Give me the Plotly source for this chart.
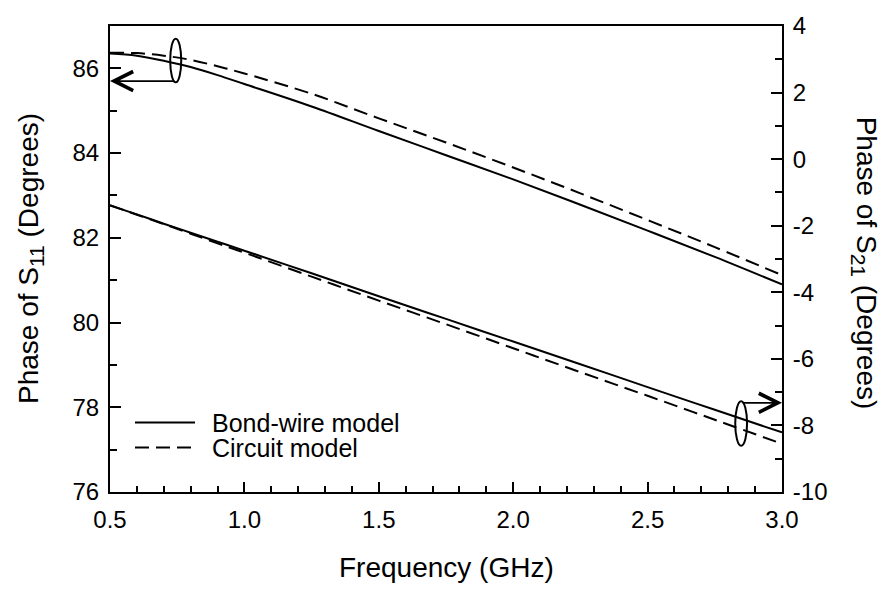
import plotly.graph_objects as go

# ---------------- data ----------------
freq = [0.5, 0.6, 0.7, 0.8, 0.9, 1.0, 1.25, 1.5, 1.75, 2.0, 2.25, 2.5, 2.75, 3.0]

s11_bondwire = [86.35, 86.30, 86.18, 86.03, 85.84, 85.63, 85.10, 84.52, 83.95, 83.38, 82.78, 82.17, 81.55, 80.90]
s11_circuit = [86.37, 86.36, 86.30, 86.20, 86.05, 85.88, 85.40, 84.82, 84.25, 83.66, 83.05, 82.42, 81.78, 81.12]

s21_bondwire = [-1.39, -1.66, -1.94, -2.21, -2.48, -2.75, -3.43, -4.12, -4.80, -5.48, -6.16, -6.85, -7.53, -8.21]
s21_circuit = [-1.38, -1.67, -1.95, -2.24, -2.53, -2.81, -3.53, -4.25, -4.96, -5.68, -6.40, -7.11, -7.83, -8.55]

x_ticks = [0.5, 1.0, 1.5, 2.0, 2.5, 3.0]
x_ticktext = ["0.5", "1.0", "1.5", "2.0", "2.5", "3.0"]
y1_ticks = [76, 78, 80, 82, 84, 86]
y1_ticktext = ["76", "78", "80", "82", "84", "86"]
y2_ticks = [-10, -8, -6, -4, -2, 0, 2, 4]
y2_ticktext = ["-10", "-8", "-6", "-4", "-2", "0", "2", "4"]

series_names = ["Bond-wire model", "Circuit model"]
series_dash = ["solid", "14px,7px"]

x_title = "Frequency (GHz)"
y1_title = "Phase of S<sub><span style=\"font-size:21px\">11</span></sub> (Degrees)"
y2_title = "Phase of S<sub><span style=\"font-size:21px\">21</span></sub> (Degrees)"

FONT = "Liberation Sans, Arial, sans-serif"

fig = go.Figure()

for vals, name, dash in [(s11_bondwire, series_names[0], series_dash[0]),
                         (s11_circuit, series_names[1], series_dash[1])]:
    fig.add_trace(go.Scatter(x=freq, y=vals, mode="lines", name=name,
                             line=dict(color="black", width=2, dash=dash, shape="spline"),
                             yaxis="y", showlegend=False))

for vals, name, dash in [(s21_bondwire, series_names[0], series_dash[0]),
                         (s21_circuit, series_names[1], series_dash[1])]:
    fig.add_trace(go.Scatter(x=freq, y=vals, mode="lines", name=name,
                             line=dict(color="black", width=2, dash=dash, shape="spline"),
                             yaxis="y2", showlegend=False))

tickfont = dict(family=FONT, size=24, color="black")
titlefont = dict(family=FONT, size=28, color="black")

fig.update_layout(
    width=884, height=589,
    margin=dict(l=110, r=102, t=20, b=97),
    paper_bgcolor="white", plot_bgcolor="white",
    font=dict(family=FONT, color="black"),
    xaxis=dict(range=[0.5, 3.0], tickmode="array", tickvals=x_ticks, ticktext=x_ticktext,
               showgrid=False, zeroline=False, showline=True, linewidth=2, linecolor="black",
               mirror=True, ticks="inside", ticklen=10, tickwidth=2, tickcolor="black",
               minor=dict(dtick=0.1, tick0=0.5, ticks="inside", ticklen=6, tickwidth=1.5, tickcolor="black"),
               tickfont=tickfont, ticklabelstandoff=5),
    yaxis=dict(range=[76, 87], tickmode="array", tickvals=y1_ticks, ticktext=y1_ticktext,
               showgrid=False, zeroline=False, showline=True, linewidth=2, linecolor="black",
               ticks="inside", ticklen=11, tickwidth=2, tickcolor="black",
               minor=dict(dtick=1, tick0=76, ticks="inside", ticklen=7, tickwidth=1.5, tickcolor="black"),
               tickfont=tickfont, ticklabelstandoff=4),
    yaxis2=dict(range=[-10, 4], tickmode="array", tickvals=y2_ticks, ticktext=y2_ticktext,
                overlaying="y", side="right",
                showgrid=False, zeroline=False, showline=True, linewidth=2, linecolor="black",
                ticks="inside", ticklen=11, tickwidth=2, tickcolor="black",
                minor=dict(dtick=1, tick0=-10, ticks="inside", ticklen=7, tickwidth=1.5, tickcolor="black"),
                tickfont=tickfont, ticklabelstandoff=4),
    showlegend=False,
)

# axis titles
fig.add_annotation(text=x_title, xref="paper", yref="paper", x=0.5, y=-0.161,
                   xanchor="center", yanchor="middle", showarrow=False, font=titlefont)
fig.add_annotation(text=y1_title, xref="paper", yref="paper", x=-0.119, y=0.5,
                   xanchor="center", yanchor="middle", textangle=-90, showarrow=False, font=titlefont)
fig.add_annotation(text=y2_title, xref="paper", yref="paper", x=1.122, y=0.49,
                   xanchor="center", yanchor="middle", textangle=90, showarrow=False, font=titlefont)

# ellipses marking curve groups
fig.add_shape(type="circle", xref="x", yref="y", x0=0.724, x1=0.765, y0=85.67, y1=86.70,
              line=dict(color="black", width=2))
fig.add_shape(type="circle", xref="x", yref="y2", x0=2.826, x1=2.870, y0=-8.61, y1=-7.27,
              line=dict(color="black", width=2))

# arrows toward the relevant axes
fig.add_annotation(x=0.5, y=85.70, ax=0.745, ay=85.70, xref="x", yref="y", axref="x", ayref="y",
                   text="", showarrow=True, arrowhead=5, arrowsize=2.2, arrowwidth=1.7,
                   arrowcolor="black", standoff=0, startstandoff=0)
fig.add_annotation(x=3.0, y=-7.32, ax=2.848, ay=-7.32, xref="x", yref="y2", axref="x", ayref="y2",
                   text="", showarrow=True, arrowhead=5, arrowsize=2.2, arrowwidth=1.7,
                   arrowcolor="black", standoff=0, startstandoff=0)

# legend (drawn manually for long line samples)
leg_rows = [0.149, 0.0953]
for name, dash, yy in zip(series_names, series_dash, leg_rows):
    fig.add_shape(type="line", xref="paper", yref="paper", x0=0.0372, x1=0.1265, y0=yy, y1=yy,
                  line=dict(color="black", width=2, dash=dash))
    fig.add_annotation(text=name, xref="paper", yref="paper", x=0.1488, y=yy,
                       xanchor="left", yanchor="middle", showarrow=False,
                       font=dict(family=FONT, size=25, color="black"))

fig.write_html("out.html")
